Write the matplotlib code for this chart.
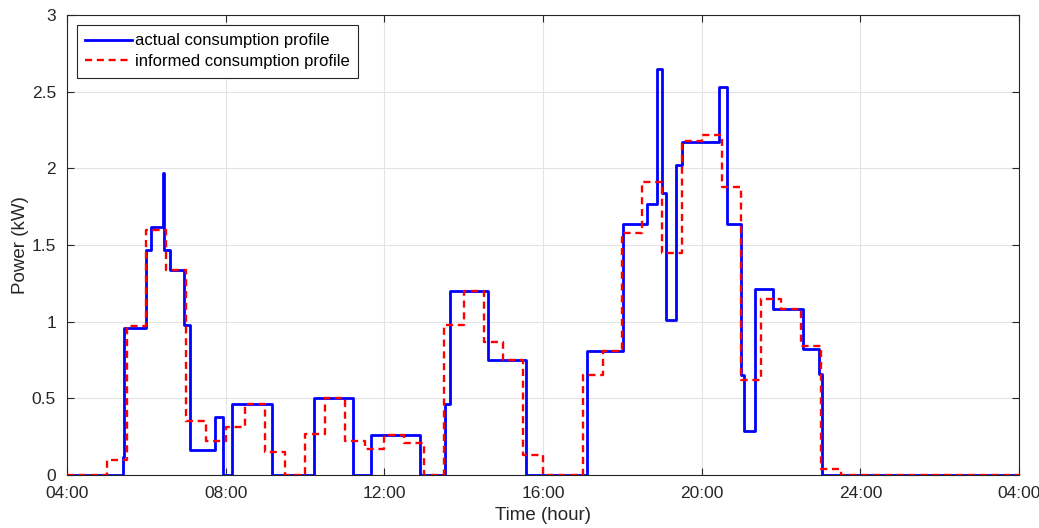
import matplotlib
matplotlib.use('Agg')
import matplotlib.pyplot as plt
import numpy as np

# actual consumption: step change times (hour) and the level from that time on (kW)
actual_t = [4.0, 5.40, 5.44, 5.98, 6.13, 6.41, 6.45, 6.60, 6.95, 7.10, 7.74, 7.94,
            8.15, 9.16, 10.23, 11.22, 11.66, 12.90, 13.52, 13.65, 14.62, 15.57,
            17.10, 18.02, 18.63, 18.87, 18.99, 19.09, 19.35, 19.50, 20.44, 20.65,
            20.98, 21.07, 21.34, 21.79, 22.56, 22.96, 23.04, 28.0]
actual_kw = [0, 0.12, 0.96, 1.47, 1.62, 1.97, 1.47, 1.34, 0.98, 0.16, 0.38, 0,
             0.46, 0, 0.50, 0, 0.26, 0, 0.46, 1.20, 0.75, 0,
             0.81, 1.64, 1.77, 2.65, 1.84, 1.01, 2.02, 2.17, 2.53, 1.64,
             0.65, 0.29, 1.21, 1.08, 0.82, 0.66, 0, 0]

# informed consumption: one value per half hour from 04:00 to 03:30
informed_kw = [0, 0, 0.10, 0.97, 1.60, 1.34, 0.35, 0.22, 0.31, 0.46, 0.15, 0,
               0.27, 0.50, 0.22, 0.17, 0.26, 0.21, 0, 0.98, 1.20, 0.87, 0.75, 0.13,
               0, 0, 0.65, 0.81, 1.58, 1.91, 1.45, 2.18, 2.22, 1.88, 0.62, 1.15,
               1.08, 0.84, 0.04, 0, 0, 0, 0, 0, 0, 0, 0, 0]
informed_t = 4.0 + 0.5 * np.arange(len(informed_kw) + 1)

x_ticks = [4, 8, 12, 16, 20, 24, 28]
x_labels = ['04:00', '08:00', '12:00', '16:00', '20:00', '24:00', '04:00']
y_ticks = [0, 0.5, 1, 1.5, 2, 2.5, 3]
y_labels = ['0', '0.5', '1', '1.5', '2', '2.5', '3']

plt.rcParams['font.family'] = ['Liberation Sans', 'DejaVu Sans']

fig = plt.figure(figsize=(10.39, 5.28), dpi=100)
ax = fig.add_axes([67 / 1039, 53 / 528, 952 / 1039, 460 / 528])

ax.plot(actual_t, actual_kw, drawstyle='steps-post', color='#0000ff', lw=2.0,
        label='actual consumption profile', zorder=3)
ax.plot(informed_t, informed_kw + [informed_kw[-1]], drawstyle='steps-post',
        color='#ff0000', lw=1.7, dashes=(3.0, 2.0),
        label='informed consumption profile', zorder=4)

ax.set_xlim(4, 28)
ax.set_ylim(0, 3)
ax.set_xticks(x_ticks)
ax.set_xticklabels(x_labels)
ax.set_yticks(y_ticks)
ax.set_yticklabels(y_labels)
ax.grid(True, color='#e3e3e3', lw=0.8)
ax.set_axisbelow(True)
ax.tick_params(direction='in', top=True, right=True, labelsize=12.5,
               colors='#262626', length=5, width=0.8)
ax.tick_params(axis='x', pad=8)
ax.tick_params(axis='y', pad=8)
for s in ax.spines.values():
    s.set_color('#262626')
    s.set_linewidth(0.8)

ax.set_xlabel('Time (hour)', fontsize=13.5, color='#262626', labelpad=4)
ax.set_ylabel('Power (kW)', fontsize=13.5, color='#262626', labelpad=2)

leg = ax.legend(loc='upper left', fontsize=12, fancybox=False, framealpha=1,
                edgecolor='#262626', borderaxespad=0.6, handlelength=2.8,
                handletextpad=0.2, labelspacing=0.35, borderpad=0.5)
leg.get_frame().set_linewidth(0.8)

fig.savefig('out.png', dpi=100)
